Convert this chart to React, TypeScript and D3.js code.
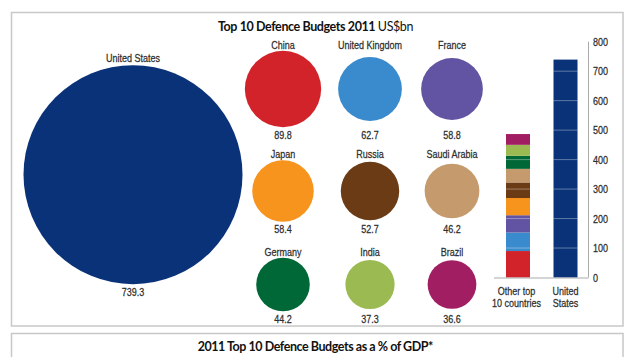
import React from "react";
import * as d3 from "d3";

const usLabel = "United States";
const usValue = 739.3;
const countries = ["China", "United Kingdom", "France", "Japan", "Russia", "Saudi Arabia", "Germany", "India", "Brazil"];
const budgets = [89.8, 62.7, 58.8, 58.4, 52.7, 46.2, 44.2, 37.3, 36.6];
const colors = ["#d2232a", "#3a8bcd", "#6353a3", "#f7941d", "#6a3b14", "#c59a6c", "#006837", "#9bbb52", "#a21e63"];
const usColor = "#0a3278";
const yTicks = [0, 100, 200, 300, 400, 500, 600, 700, 800];
const barCats = [["Other top", "10 countries"], ["United", "States"]];

const W = 635, H = 357;
const narrow = "'Liberation Sans', Arial, sans-serif";
const titleFont = "Lato, 'Open Sans', sans-serif";
const textColor = "#2e2e2e";
const fs = 11;

function T({ x, y, anchor, children }: any) {
  return (
    <g transform={`translate(${x},${y}) scale(0.82,1)`}>
      <text x={0} y={0} textAnchor={anchor || "start"} fontFamily={narrow} fontSize={fs} fill={textColor}
        stroke={textColor} strokeWidth={0.25}>
        {children}
      </text>
    </g>
  );
}

export default function App() {
  const r = d3.scaleSqrt().domain([0, usValue]).range([0, 109.5]);
  const colX = [283, 370, 452];
  const rowY = [89, 191, 284.5];
  const y = d3.scaleLinear().domain([0, 800]).range([277.5, 41.7]);
  const fmt = d3.format(".1f");

  const stacked = d3.stack<any>().keys(countries.map((_, i) => String(i)))([
    Object.fromEntries(budgets.map((v, i) => [String(i), v])),
  ]);

  const otherX = 506, usX = 553.5, bw = 24;

  return (
    <svg width={W} height={H} style={{ position: "absolute", left: 0, top: 0, background: "#fff" }}>
      <rect x={11.5} y={12.5} width={611.5} height={313.5} fill="none" stroke="#c8c8c8" strokeWidth={1.5} />
      <rect x={11.5} y={333.5} width={611.5} height={40} fill="none" stroke="#c8c8c8" strokeWidth={1.5} />

      <text x={315.5} y={31} textAnchor="middle" fontFamily={titleFont} fontSize={12.5} fill="#111" letterSpacing={-0.4}>
        <tspan fontWeight="bold">Top 10 Defence Budgets 2011 </tspan>
        <tspan>US$bn</tspan>
      </text>
      <text x={315.3} y={351} textAnchor="middle" fontFamily={titleFont} fontSize={12.5} fontWeight="bold" fill="#111" letterSpacing={-0.45}>
        2011 Top 10 Defence Budgets as a % of GDP*
      </text>

      {/* US circle */}
      <circle cx={133} cy={174.7} r={r(usValue)} fill={usColor} />
      <T x={133} y={61.5} anchor="middle">{usLabel}</T>
      <T x={133} y={296} anchor="middle">{fmt(usValue)}</T>

      {countries.map((c, i) => {
        const row = Math.floor(i / 3), col = i % 3;
        const rowMax = d3.max(budgets.slice(row * 3, row * 3 + 3))!;
        const mr = r(rowMax);
        const cx = colX[col], cy = rowY[row];
        return (
          <g key={c}>
            <circle cx={cx} cy={cy} r={r(budgets[i])} fill={colors[i]} />
            <T x={cx} y={cy - mr - 2} anchor="middle">{c}</T>
            <T x={cx} y={cy + mr + 11.5} anchor="middle">{fmt(budgets[i])}</T>
          </g>
        );
      })}

      {/* bars */}
      {stacked.map((s, i) => (
        <rect key={i} x={otherX} width={bw} y={y(s[0][1])} height={y(s[0][0]) - y(s[0][1])} fill={colors[i]} />
      ))}
      <rect x={usX} width={bw} y={y(usValue)} height={y(0) - y(usValue)} fill={usColor} />
      {yTicks.slice(1).map((t) => (
        <g key={t}>
          {t < d3.sum(budgets) && <line x1={otherX} x2={otherX + bw} y1={y(t)} y2={y(t)} stroke="#fff" strokeOpacity={0.35} strokeWidth={1} />}
          {t < usValue && <line x1={usX} x2={usX + bw} y1={y(t)} y2={y(t)} stroke="#fff" strokeOpacity={0.35} strokeWidth={1} />}
        </g>
      ))}
      <line x1={588.5} x2={588.5} y1={y(800)} y2={y(0)} stroke="#aaa" strokeWidth={1} />
      <line x1={494} x2={588.5} y1={y(0) + 0.5} y2={y(0) + 0.5} stroke="#aaa" strokeWidth={1} />
      {yTicks.map((t) => (
        <T key={t} x={593} y={y(t) + 4}>{t}</T>
      ))}
      {barCats.map((lines, i) =>
        lines.map((l, j) => (
          <T key={`${i}-${j}`} x={i === 0 ? 516.5 : 565.5} y={295 + j * 12} anchor="middle">{l}</T>
        ))
      )}
    </svg>
  );
}
